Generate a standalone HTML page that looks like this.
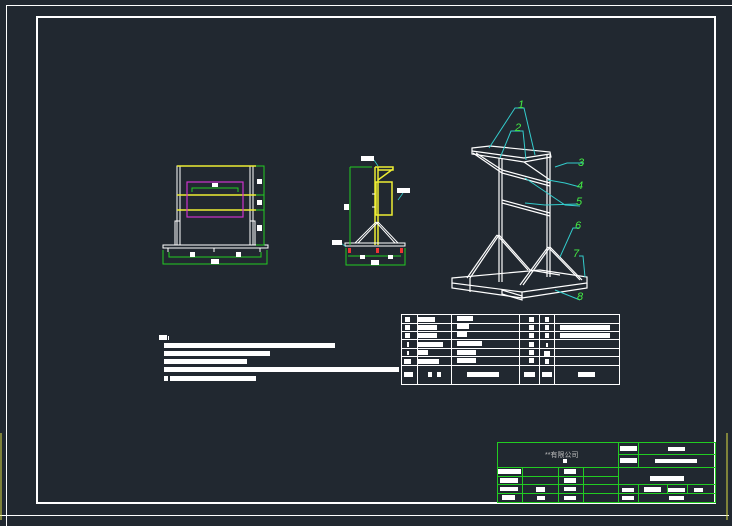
<!DOCTYPE html>
<html><head><meta charset="utf-8"><style>
html,body{margin:0;padding:0;background:#212830;width:732px;height:526px;overflow:hidden}
svg{display:block}
text{font-family:"Liberation Sans","Noto Sans CJK SC",sans-serif}
</style></head><body>
<svg width="732" height="526" viewBox="0 0 732 526" xmlns="http://www.w3.org/2000/svg">
<rect width="732" height="526" fill="#212830"/>
<path d="M6.5 526V5.5H732" fill="none" stroke="#fff" stroke-width="1"/>
<path d="M0 515.5H729" stroke="#fff" stroke-width="1"/>
<path d="M1 433V520M727 433V520" stroke="#dd4" stroke-width="1"/>
<rect x="37" y="17" width="678" height="486" fill="none" stroke="#fff" stroke-width="2"/>

<!-- FRONT VIEW -->
<g fill="none" stroke="#fff" stroke-width="1">
<rect x="177" y="166" width="3" height="79"/><rect x="250" y="166" width="3" height="79"/>
<rect x="175" y="221" width="5" height="24"/><rect x="250" y="221" width="5" height="24"/>
<rect x="163" y="245" width="105" height="3"/>
<path d="M168 248V252M214 248V252M260 248V252"/>
</g>
<g stroke="#ee3" stroke-width="1.5" fill="none">
<path d="M177 166H256M177 195H256M177 210H256"/>
</g>
<rect x="187" y="182" width="56" height="35" fill="none" stroke="#c3c" stroke-width="1.2"/>
<g stroke="#2c2" stroke-width="1" fill="none">
<path d="M192 192V188H238V192M256 166H264V245H256M256 195H264M256 210H264M264 166V245"/>
<path d="M169 252V257H261V252M163 250V264H267V250"/>
</g>
<g fill="#fff"><rect x="212" y="183" width="6" height="4"/><rect x="257" y="179" width="5" height="5"/><rect x="257" y="200" width="5" height="5"/><rect x="257" y="225" width="5" height="6"/><rect x="190" y="252" width="5" height="5"/><rect x="236" y="252" width="5" height="5"/><rect x="211" y="259" width="8" height="5"/></g>

<!-- SIDE VIEW -->
<g stroke="#ee3" stroke-width="1.5" fill="none">
<path d="M375 167V245M378 167V245M375 167H393V170H378M378 180L393 169"/>
<rect x="376" y="182" width="16" height="33"/>
</g>
<g stroke="#fff" stroke-width="1" fill="none">
<path d="M376 222L355 243M378 222L358 243M378 222L398 243M376 222L395 243"/>
<rect x="345" y="243" width="60" height="3"/>
<path d="M372 194H375M372 207H375"/>
</g>
<g stroke="#2c2" stroke-width="1" fill="none"><path d="M350 167H372M350 167V245M346 248V265H405V248M348 256H401"/></g>
<g stroke="#3cc" stroke-width="0.8"><path d="M374 160L378 166M403 193L398 200M341 243L346 247"/></g>
<g fill="#fff"><rect x="361" y="156" width="13" height="5"/><rect x="397" y="188" width="13" height="5"/><rect x="332" y="240" width="10" height="5"/><rect x="344" y="204" width="5" height="6"/><rect x="360" y="255" width="5" height="4"/><rect x="388" y="255" width="5" height="4"/><rect x="371" y="260" width="8" height="5"/></g>
<g fill="#e33"><rect x="348" y="248" width="3" height="5"/><rect x="376" y="248" width="3" height="5"/><rect x="400" y="248" width="3" height="5"/></g>

<!-- ISO VIEW -->
<g stroke="#fff" stroke-width="1.2" fill="none">
<path d="M472 148L490 146L550 152L551 157L524 162L472 154Z M472 151L524 158L550 154"/>
<path d="M499 158V282M502 158V282M547 155V277M550 155V277"/>
<path d="M502 170L550 183M502 173L550 186M502 200L550 213M502 203L550 216"/>
<path d="M473 153L502 173M476 153L502 170M524 162L550 180"/>
<path d="M497 235L467 278M499 235L470 278M497 235L528 270M499 235L530 270"/>
<path d="M548 247L520 285M550 247L523 285M548 247L580 280M550 247L582 280"/>
<path d="M452 278L540 270L587 277L587 283L522 292L452 283Z"/>
<path d="M452 283L452 288L522 298L587 288L587 283M522 292V298M470 278L470 292M530 270L560 275"/>
<path d="M502 290L522 296L522 300L502 294Z"/>
</g>
<g stroke="#3cc" stroke-width="1" fill="none">
<path d="M489 148L515 108H524L535 155M500 158L511 131H523L526 160M555 167L567 163H584M548 180L565 183L580 187M525 178L565 205L580 206M525 203L545 205L578 204M560 257L573 228H579M585 277L583 256H579M555 290L580 300"/>
</g>
<g fill="#4e4" font-size="11" font-style="italic"><text x="518" y="108">1</text><text x="515" y="131">2</text><text x="578" y="166">3</text><text x="577" y="189">4</text><text x="576" y="205">5</text><text x="575" y="229">6</text><text x="573" y="257">7</text><text x="577" y="300">8</text></g>

<!-- NOTES -->
<g fill="#fff"><rect x="159" y="335" width="8" height="5"/><rect x="168" y="336" width="1" height="4"/><rect x="164" y="343" width="171" height="5"/><rect x="164" y="351" width="106" height="5"/><rect x="164" y="359" width="83" height="5"/><rect x="164" y="367" width="235" height="5"/><rect x="164" y="376" width="4" height="5"/><rect x="170" y="376" width="86" height="5"/></g>

<!-- PARTS TABLE -->
<g stroke="#fff" stroke-width="1" fill="none">
<rect x="401.5" y="314.5" width="218" height="70"/>
<path d="M417.5 314V384M451.5 314V384M519.5 314V384M539.5 314V384M554.5 314V384"/>
<path d="M401 323.5H619M401 331.5H619M401 339.5H619M401 348.5H619M401 356.5H619M401 365.5H619"/>
</g>
<g fill="#fff">
<rect x="405" y="317" width="5" height="5"/><rect x="418" y="317" width="17" height="5"/><rect x="457" y="316" width="16" height="5"/><rect x="529" y="317" width="5" height="5"/><rect x="545" y="317" width="4" height="5"/>
<rect x="405" y="325" width="5" height="5"/><rect x="418" y="325" width="19" height="5"/><rect x="457" y="324" width="12" height="5"/><rect x="529" y="325" width="5" height="5"/><rect x="545" y="325" width="4" height="5"/><rect x="560" y="325" width="50" height="5"/>
<rect x="405" y="333" width="5" height="5"/><rect x="418" y="333" width="19" height="5"/><rect x="457" y="332" width="10" height="5"/><rect x="529" y="333" width="5" height="5"/><rect x="545" y="333" width="4" height="5"/><rect x="560" y="333" width="50" height="5"/>
<rect x="407" y="342" width="2" height="5"/><rect x="418" y="342" width="25" height="5"/><rect x="457" y="341" width="25" height="5"/><rect x="529" y="342" width="5" height="5"/><rect x="546" y="343" width="2" height="4"/>
<rect x="407" y="351" width="2" height="4"/><rect x="418" y="350" width="10" height="5"/><rect x="457" y="350" width="19" height="5"/><rect x="529" y="350" width="5" height="5"/><rect x="544" y="351" width="6" height="5"/>
<rect x="404" y="359" width="7" height="5"/><rect x="418" y="359" width="21" height="5"/><rect x="457" y="358" width="19" height="5"/><rect x="529" y="358" width="5" height="5"/><rect x="545" y="359" width="4" height="5"/>
<rect x="404" y="372" width="9" height="5"/><rect x="428" y="372" width="4" height="5"/><rect x="437" y="372" width="4" height="5"/><rect x="467" y="372" width="32" height="5"/><rect x="524" y="372" width="11" height="5"/><rect x="542" y="372" width="10" height="5"/><rect x="578" y="372" width="17" height="5"/>
</g>

<!-- TITLE BLOCK -->
<path d="M497 442.5H716" stroke="#fff" stroke-width="1"/>
<g stroke="#2c2" stroke-width="1" fill="none">
<rect x="497.5" y="442.5" width="218" height="60"/>
<path d="M497 467.5H716M497 476.5H618M497 484.5H716M497 493.5H716M618 454.5H716"/>
<path d="M522.5 467V503M558.5 467V503M583.5 467V503M618.5 442V503M638.5 442V467M638.5 484V503M667.5 484V493M687.5 484V493"/>
</g>
<text x="545" y="457" font-size="7" fill="#bbb">**有限公司</text>
<g fill="#fff">
<rect x="563" y="459" width="4" height="4"/>
<rect x="620" y="446" width="17" height="5"/><rect x="668" y="447" width="17" height="4"/>
<rect x="620" y="458" width="17" height="5"/><rect x="655" y="459" width="42" height="4"/>
<rect x="498" y="469" width="23" height="5"/><rect x="564" y="469" width="12" height="5"/>
<rect x="500" y="478" width="18" height="5"/><rect x="564" y="478" width="12" height="5"/><rect x="650" y="476" width="34" height="5"/>
<rect x="500" y="487" width="18" height="4"/><rect x="536" y="487" width="9" height="5"/><rect x="564" y="487" width="12" height="4"/><rect x="622" y="488" width="12" height="4"/><rect x="644" y="487" width="17" height="5"/><rect x="668" y="488" width="17" height="4"/><rect x="694" y="488" width="9" height="4"/>
<rect x="502" y="495" width="13" height="5"/><rect x="537" y="496" width="8" height="4"/><rect x="564" y="496" width="12" height="4"/><rect x="622" y="496" width="12" height="4"/><rect x="669" y="496" width="15" height="4"/>
</g>
</svg>
</body></html>
